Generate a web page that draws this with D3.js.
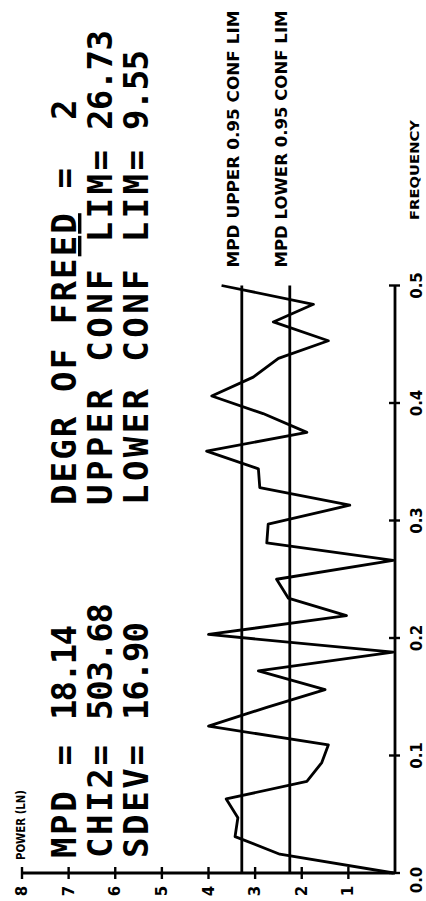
<!DOCTYPE html>
<html>
<head>
<meta charset="utf-8">
<script src="https://cdn.jsdelivr.net/npm/d3@7"></script>
<style>
  html, body { margin: 0; padding: 0; background: #fff; }
  svg { display: block; }
  text { fill: #000; }
</style>
</head>
<body>
<script>
// Periodogram ordinates, ln power against frequency (cycles per sample)
const frequency = [0.000, 0.016, 0.031, 0.047, 0.063, 0.078, 0.094, 0.109, 0.125,
                   0.141, 0.156, 0.172, 0.188, 0.203, 0.219, 0.234, 0.250, 0.266,
                   0.281, 0.297, 0.313, 0.328, 0.344, 0.359, 0.375, 0.391, 0.406,
                   0.422, 0.438, 0.453, 0.469, 0.484, 0.500];
const power = [0.03, 2.47, 3.43, 3.37, 3.62, 1.89, 1.57, 1.43, 4.00,
               2.75, 1.50, 2.93, 0.04, 4.00, 1.04, 2.29, 2.54, 0.04,
               2.75, 2.72, 0.97, 2.90, 2.93, 4.04, 1.89, 2.83, 3.93,
               3.04, 2.50, 1.43, 2.61, 1.75, 3.72];

// Summary statistics printed on the plot
const statLabels = ["MPD =", "CHI2=", "SDEV="];
const statValues = ["18.14", "503.68", "16.90"];
const confLabels = ["DEGR OF FREED =", "UPPER CONF LIM=", "LOWER CONF LIM="];
const confValues = ["2", "26.73", "9.55"];
const upperLim = 26.73;
const lowerLim = 9.55;
const limitNames = ["MPD UPPER 0.95 CONF LIM", "MPD LOWER 0.95 CONF LIM"];

// Axis ticks
const powerTicks = [1, 2, 3, 4, 5, 6, 7, 8];
const freqTicks = [0.0, 0.1, 0.2, 0.3, 0.4, 0.5];
const freqTickLabels = ["0.0", "0.1", "0.2", "0.3", "0.4", "0.5"];

const W = 426, H = 901;          // page
const svg = d3.select("body").append("svg")
  .attr("width", W).attr("height", H);

// the plot is laid out landscape (901 wide, 426 high) and turned a quarter left
const g = svg.append("g")
  .attr("transform", `translate(0,${H}) rotate(-90)`);

const x = d3.scaleLinear().domain([0, 0.5]).range([28, 615.5]);
const y = d3.scaleLinear().domain([0, 8]).range([395, 22]);

const ink = "#000";
const sw = 2.8;
const plotFont = "DejaVu Sans";
const mono = "DejaVu Sans Mono";

// power axis
g.append("line")
  .attr("x1", x(0)).attr("x2", x(0))
  .attr("y1", y(0)).attr("y2", y(8))
  .attr("stroke", ink).attr("stroke-width", sw);
g.selectAll(".ptick").data(powerTicks).join("line")
  .attr("x1", x(0) - 6).attr("x2", x(0) + 6)
  .attr("y1", d => y(d)).attr("y2", d => y(d))
  .attr("stroke", ink).attr("stroke-width", 2.4);
g.selectAll(".plab").data(powerTicks).join("text")
  .attr("x", x(0) - 18).attr("y", d => y(d))
  .attr("text-anchor", "middle").attr("dominant-baseline", "central")
  .attr("font-family", plotFont).attr("font-weight", "bold")
  .attr("font-size", 15)
  .text(d => d);

// frequency axis
g.append("line")
  .attr("x1", x(0)).attr("x2", x(0.5))
  .attr("y1", y(0)).attr("y2", y(0))
  .attr("stroke", ink).attr("stroke-width", sw);
g.selectAll(".ftick").data(freqTicks).join("line")
  .attr("x1", d => x(d)).attr("x2", d => x(d))
  .attr("y1", y(0) - 6).attr("y2", y(0) + 5)
  .attr("stroke", ink).attr("stroke-width", 2.4);
g.selectAll(".flab").data(freqTicks).join("text")
  .attr("x", d => d === 0 ? x(d) - 7 : x(d)).attr("y", 422)
  .attr("text-anchor", "middle")
  .attr("font-family", plotFont).attr("font-weight", "bold")
  .attr("font-size", 15)
  .text((d, i) => freqTickLabels[i]);

// axis titles
g.append("text")
  .attr("x", 41).attr("y", 25)
  .attr("font-family", plotFont).attr("font-weight", "bold")
  .attr("font-size", 13)
  .attr("textLength", 70).attr("lengthAdjust", "spacingAndGlyphs")
  .text("POWER (LN)");
g.append("text")
  .attr("x", 681).attr("y", 419)
  .attr("font-family", plotFont).attr("font-weight", "bold")
  .attr("font-size", 13)
  .attr("textLength", 100).attr("lengthAdjust", "spacingAndGlyphs")
  .text("FREQUENCY");

// confidence limits, drawn on the ln scale
const limits = [Math.log(upperLim), Math.log(lowerLim)];
g.selectAll(".lim").data(limits).join("line")
  .attr("x1", x(0)).attr("x2", x(0.5))
  .attr("y1", d => y(d)).attr("y2", d => y(d))
  .attr("stroke", ink).attr("stroke-width", sw);
g.selectAll(".limlab").data(limits).join("text")
  .attr("x", x(0.5) + 18).attr("y", d => y(d) - 3)
  .attr("font-family", plotFont).attr("font-weight", "bold")
  .attr("font-size", 15)
  .attr("textLength", 257).attr("lengthAdjust", "spacingAndGlyphs")
  .text((d, i) => limitNames[i]);

// periodogram trace
const pts = frequency.map((f, i) => [f, power[i]]);
g.append("path")
  .datum(pts)
  .attr("fill", "none").attr("stroke", ink)
  .attr("stroke-width", sw).attr("stroke-linejoin", "round")
  .attr("d", d3.line().x(d => x(d[0])).y(d => y(d[1])));

// statistics block
const rows = [76, 112, 148];
const fs = 34;
const statValueLen = [95, 117, 98];
statLabels.forEach((s, i) => {
  g.append("text").attr("x", 43).attr("y", rows[i])
    .attr("font-family", mono).attr("font-weight", "bold").attr("font-size", fs)
    .attr("textLength", 113).attr("lengthAdjust", "spacing")
    .text(s);
  g.append("text").attr("x", 181).attr("y", rows[i])
    .attr("font-family", mono).attr("font-weight", "bold").attr("font-size", fs)
    .attr("textLength", statValueLen[i]).attr("lengthAdjust", "spacing")
    .text(statValues[i]);
});
const confLabelLen = [337, 355, 355];
const confValueX = [781, 771, 771];
const confValueLen = [20, 100, 80];
confLabels.forEach((s, i) => {
  const t = g.append("text").attr("x", 396).attr("y", rows[i])
    .attr("font-family", mono).attr("font-weight", "bold").attr("font-size", fs)
    .attr("textLength", confLabelLen[i]).attr("lengthAdjust", "spacing");
  if (i === 0) {
    t.append("tspan").text("DEGR OF FRE");
    t.append("tspan").attr("text-decoration", "underline").text("ED");
    t.append("tspan").text(" =");
  } else {
    t.text(s);
  }
  g.append("text").attr("x", confValueX[i]).attr("y", rows[i])
    .attr("font-family", mono).attr("font-weight", "bold").attr("font-size", fs)
    .attr("textLength", confValueLen[i]).attr("lengthAdjust", "spacing")
    .text(confValues[i]);
});
</script>
</body>
</html>
